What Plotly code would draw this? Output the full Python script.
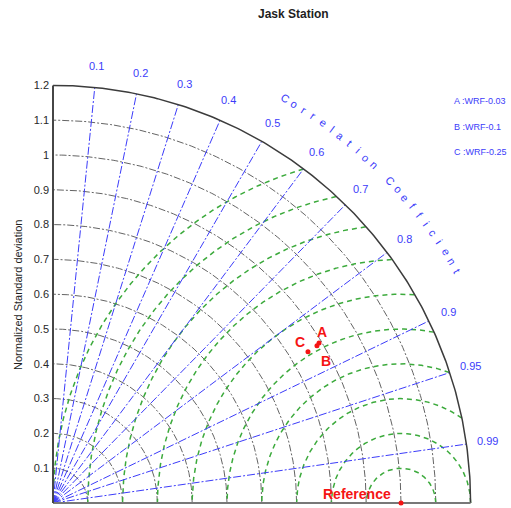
import numpy as np
import plotly.graph_objects as go

# ---- data ----
models = ["A", "B", "C"]
model_names = ["WRF-0.03", "WRF-0.1", "WRF-0.25"]
model_std = [0.892, 0.883, 0.852]
model_corr = [0.857, 0.859, 0.860]
ref_std = 1.0
ref_label = "Reference"

std_ticks = [0, 0.1, 0.2, 0.3, 0.4, 0.5, 0.6, 0.7, 0.8, 0.9, 1.0, 1.1, 1.2]
std_ticktext = ["0", "0.1", "0.2", "0.3", "0.4", "0.5", "0.6", "0.7", "0.8", "0.9", "1", "1.1", "1.2"]
corr_ticks = [0.1, 0.2, 0.3, 0.4, 0.5, 0.6, 0.7, 0.8, 0.9, 0.95, 0.99]
corr_ticktext = ["0.1", "0.2", "0.3", "0.4", "0.5", "0.6", "0.7", "0.8", "0.9", "0.95", "0.99"]
rms_ticks = [0.1, 0.2, 0.3, 0.4, 0.5, 0.6, 0.7, 0.8, 0.9, 1.0]
std_max = 1.2

W, H = 511, 508
# pixel geometry of the frame
x0px, y0px, scale = 53.0, 503.0, 348.0
xr = [-x0px / scale, (W - x0px) / scale]
yr = [-(H - y0px) / scale, y0px / scale]

BLUE = "rgb(60,60,250)"
GREEN = "rgb(60,170,60)"
GRAY = "rgb(100,100,100)"
RED = "rgb(245,20,20)"
FONT = "Liberation Sans, Arial, sans-serif"

fig = go.Figure()

# std arcs
th = np.linspace(0, np.pi / 2, 200)
for r in std_ticks[1:-1]:
    fig.add_trace(go.Scatter(x=r * np.cos(th), y=r * np.sin(th), mode="lines",
                             line=dict(color=GRAY, width=1, dash="7px,2px,2px,2px"), hoverinfo="skip"))

# rms arcs centred on reference, clipped to outer circle
ph = np.linspace(0, np.pi, 1200)
for r in rms_ticks:
    xs = ref_std + r * np.cos(ph)
    ys = r * np.sin(ph)
    keep = np.hypot(xs, ys) <= std_max + 1e-9
    fig.add_trace(go.Scatter(x=xs[keep], y=ys[keep], mode="lines",
                             line=dict(color=GREEN, width=1.5, dash="5px,4px"), hoverinfo="skip"))

# correlation rays
for c in corr_ticks:
    a = np.arccos(c)
    fig.add_trace(go.Scatter(x=[0, std_max * np.cos(a)], y=[0, std_max * np.sin(a)], mode="lines",
                             line=dict(color=BLUE, width=1, dash="8px,2px,2px,2px"), hoverinfo="skip"))

# outer arc
fig.add_trace(go.Scatter(x=std_max * np.cos(th), y=std_max * np.sin(th), mode="lines",
                         line=dict(color="rgb(60,60,60)", width=1.5), hoverinfo="skip"))
# axes lines
fig.add_trace(go.Scatter(x=[0, std_max], y=[0, 0], mode="lines",
                         line=dict(color="rgb(120,120,120)", width=2), hoverinfo="skip"))
fig.add_trace(go.Scatter(x=[0, 0], y=[0, std_max], mode="lines",
                         line=dict(color="rgb(70,70,70)", width=2), hoverinfo="skip"))

# points
mx = [s * c for s, c in zip(model_std, model_corr)]
my = [s * np.sqrt(1 - c * c) for s, c in zip(model_std, model_corr)]
fig.add_trace(go.Scatter(x=mx + [ref_std], y=my + [0], mode="markers",
                         marker=dict(color=RED, size=5), hoverinfo="skip", cliponaxis=False))

ann = []
# correlation tick labels
for c, t in zip(corr_ticks, corr_ticktext):
    a = np.arccos(c)
    ann.append(dict(x=1.262 * np.cos(a), y=1.262 * np.sin(a), text=t, showarrow=False,
                    font=dict(color=BLUE, size=11, family=FONT), xanchor="center", yanchor="middle"))
# curved axis title
title = "Correlation Coefficient"
n = len(title)
for i, ch in enumerate(title):
    if ch == " ":
        continue
    ang = np.deg2rad(60.2 - i * (30.3 / (n - 1)))
    ann.append(dict(x=1.34 * np.cos(ang), y=1.34 * np.sin(ang), text=ch, showarrow=False,
                    textangle=90 - np.rad2deg(ang),
                    font=dict(color=BLUE, size=11, family=FONT), xanchor="center", yanchor="middle"))
# point labels
shifts = {"A": (3, 11), "B": (9, -15), "C": (-8, 10)}
for m, x, y in zip(models, mx, my):
    dx, dy = shifts[m]
    ann.append(dict(x=x, y=y, text="<b>%s</b>" % m, showarrow=False, xshift=dx, yshift=dy,
                    font=dict(color=RED, size=14, family=FONT)))
ann.append(dict(x=ref_std, y=0, text="<b>%s</b>" % ref_label, showarrow=False, xshift=-44, yshift=9,
                font=dict(color=RED, size=14, family=FONT)))
# legend text
for k, (m, nm) in enumerate(zip(models, model_names)):
    ann.append(dict(x=452 / W, y=1 - (101 + 25.5 * k) / H, xref="paper", yref="paper",
                    text="%s :%s" % (m, nm), showarrow=False, xanchor="left", yanchor="middle",
                    font=dict(color=BLUE, size=9, family=FONT)))
# title
ann.append(dict(x=293 / W, y=1 - 14 / H, xref="paper", yref="paper", text="<b>Jask Station</b>",
                showarrow=False, xanchor="center", yanchor="middle",
                font=dict(color="rgb(30,30,30)", size=12, family=FONT)))
# y title
ann.append(dict(x=18 / W, y=1 - 295 / H, xref="paper", yref="paper", text="Normalized Standard deviation",
                showarrow=False, textangle=-90, xanchor="center", yanchor="middle",
                font=dict(color="rgb(30,30,30)", size=11, family=FONT)))

fig.update_layout(
    width=W, height=H, autosize=False,
    margin=dict(l=0, r=0, t=0, b=0),
    paper_bgcolor="white", plot_bgcolor="white",
    showlegend=False,
    xaxis=dict(range=xr, visible=False, fixedrange=True),
    yaxis=dict(range=yr, anchor="free", position=x0px / W, side="left",
               tickvals=std_ticks, ticktext=std_ticktext, ticks="", showline=False,
               showgrid=False, zeroline=False, ticklabelstandoff=4,
               tickfont=dict(size=11, color="rgb(40,40,40)", family=FONT), fixedrange=True),
    annotations=ann,
)
fig.write_html("out.html")
